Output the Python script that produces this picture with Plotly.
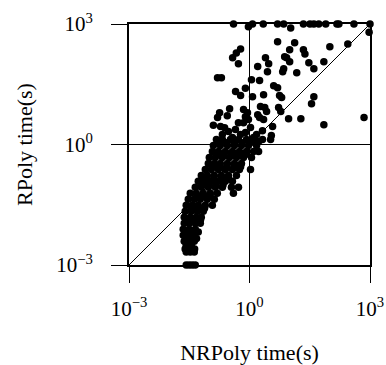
import plotly.graph_objects as go

# NRPoly time (s) and RPoly time (s)
nrpoly_time = [
    # runs capped at 1000 s for RPoly
    0.40, 1.19, 2.2, 5.0, 7.1, 22, 32, 40, 53, 79, 150, 168, 398, 1000, 0.94, 10.6, 950,
    # upper region
    5.0, 13.3, 100, 280, 0.60, 0.47, 10, 22, 24, 7.5, 8.4, 2.5, 0.38, 0.53, 10, 30, 71,
    3.0, 2.8, 1.6, 7.1, 6.7, 40, 15, 0.16, 0.20, 1.12, 1.78, 0.45, 0.60, 0.79, 4.0, 5.0,
    1.19, 2.24, 5.6, 6.3, 40, 35, 0.32, 0.28, 0.18, 0.16, 0.71, 0.89, 0.79, 1.88, 2.4,
    2.66, 5.3, 6.0, 9.4, 19, 71, 710, 1.6, 1.78, 2.24, 0.126, 0.19, 0.24, 0.53, 0.71,
    0.94, 3.76, 2.1, 3.5,
    0.299, 0.447, 0.596, 0.794, 1.06, 1.26, 0.376, 0.211, 1.5, 1.68,
    # dense band
    0.150, 0.211, 0.335, 0.531, 0.841, 1.33, 2.11, 3.35,
    0.126, 0.188, 0.282, 0.422, 0.631, 0.944, 1.5,
    0.119, 0.168, 0.251, 0.376, 0.562, 0.841, 1.26, 1.68,
    0.1, 0.141, 0.211, 0.316, 0.473, 0.708, 1.12,
    0.0944, 0.133, 0.188, 0.282, 0.422, 0.631,
    0.0794, 0.112, 0.168, 0.251, 0.376, 0.562, 1.06,
    0.0631, 0.0891, 0.133, 0.2, 0.299, 0.473,
    0.0531, 0.075, 0.112, 0.168, 0.251, 0.376,
    0.0447, 0.0631, 0.0944, 0.141, 0.211, 0.355, 0.531,
    0.0335, 0.0473, 0.0708, 0.106, 0.158, 0.398,
    0.0299, 0.0422, 0.0596, 0.0891, 0.133,
    0.0266, 0.0376, 0.0531, 0.0794, 0.119,
    0.0251, 0.0355, 0.0501, 0.0708,
    0.0237, 0.0335, 0.0473, 0.0631,
    0.0237, 0.0316, 0.0447, 0.0596,
    0.0224, 0.0316, 0.0447,
    0.0224, 0.0299, 0.0422,
    0.0237, 0.0316, 0.0422,
    0.0266, 0.0355,
    0.0266, 0.0335, 0.0422,
    0.0266, 0.0316, 0.0376, 0.0447,
    # extra points filling the band
    0.18, 0.27, 0.42, 0.66, 1.05,
    0.155, 0.23, 0.35, 0.53, 0.80,
    0.12, 0.18, 0.27, 0.41, 0.60,
    0.087, 0.13, 0.20, 0.30,
    0.066, 0.097, 0.145, 0.22,
    0.049, 0.072, 0.105,
    0.036, 0.052, 0.076,
    0.029, 0.042, 0.060,
    0.027, 0.039, 0.053,
    0.026, 0.037, 0.048,
    0.025, 0.035, 0.043,
]
rpoly_time = [
    1000, 1000, 1000, 1000, 1000, 1000, 1000, 1000, 1000, 1000, 1000, 1000, 1000, 1000, 850, 800, 620,
    360, 340, 270, 320, 240, 190, 230, 230, 180, 152, 145, 145, 145, 102, 115, 108, 115,
    102, 65, 87, 77, 65, 77, 61, 46, 46, 41, 39, 21, 16.5, 25, 29, 26,
    15.5, 17.4, 16.5, 14.7, 15.5, 10.4, 7.8, 5.2, 6.2, 4.7, 7.4, 6.2, 4.9, 8.8, 8.3,
    6.6, 8.3, 6.6, 4.4, 4.4, 3.1, 4.7, 5.5, 4.7, 4.2, 3.0, 2.8, 2.6, 3.5, 3.5,
    4.2, 2.8, 2.2, 1.67,
    2.1, 2.36, 1.77, 1.98, 2.64, 1.49, 1.49, 1.77, 1.77, 1.19,
    1.33, 1.33, 1.33, 1.33, 1.33, 1.33, 1.33, 1.33,
    0.94, 0.94, 0.94, 0.94, 0.94, 0.94, 0.94,
    0.67, 0.67, 0.67, 0.67, 0.67, 0.67, 0.67, 0.67,
    0.475, 0.475, 0.475, 0.475, 0.475, 0.475, 0.475,
    0.338, 0.338, 0.338, 0.338, 0.338, 0.338,
    0.24, 0.24, 0.24, 0.24, 0.24, 0.24, 0.24,
    0.17, 0.17, 0.17, 0.17, 0.17, 0.17,
    0.121, 0.121, 0.121, 0.121, 0.121, 0.121,
    0.0857, 0.0857, 0.0857, 0.0857, 0.0857, 0.0857, 0.0857,
    0.0608, 0.0608, 0.0608, 0.0608, 0.0608, 0.0608,
    0.0432, 0.0432, 0.0432, 0.0432, 0.0432,
    0.0306, 0.0306, 0.0306, 0.0306, 0.0306,
    0.0217, 0.0217, 0.0217, 0.0217,
    0.0154, 0.0154, 0.0154, 0.0154,
    0.011, 0.011, 0.011, 0.011,
    0.0078, 0.0078, 0.0078,
    0.0055, 0.0055, 0.0055,
    0.0039, 0.0039, 0.0039,
    0.0031, 0.0031,
    0.0021, 0.0021, 0.0021,
    0.001, 0.001, 0.001, 0.001,
    1.1, 1.1, 1.1, 1.1, 1.1,
    0.56, 0.56, 0.56, 0.56, 0.56,
    0.28, 0.28, 0.28, 0.28, 0.28,
    0.145, 0.145, 0.145, 0.145,
    0.10, 0.10, 0.10, 0.10,
    0.052, 0.052, 0.052,
    0.026, 0.026, 0.026,
    0.013, 0.013, 0.013,
    0.0066, 0.0066, 0.0066,
    0.0046, 0.0046, 0.0046,
    0.0025, 0.0025, 0.0025,
]

diag = [1e-3, 1e3]
tick_vals = [1e-3, 1e0, 1e3]
tick_text = ["10<sup>−3</sup>", "10<sup>0</sup>", "10<sup>3</sup>"]

FONT = "Liberation Serif"

fig = go.Figure()
fig.add_trace(go.Scatter(x=diag, y=diag, mode="lines",
                         line=dict(color="black", width=1), hoverinfo="skip"))
fig.add_trace(go.Scatter(x=nrpoly_time, y=rpoly_time, mode="markers",
                         marker=dict(color="black", size=7.5, line=dict(width=0)),
                         cliponaxis=False))

axis_common = dict(
    type="log", range=[-3, 3], tickvals=tick_vals, ticktext=tick_text,
    ticks="outside", ticklen=16, tickwidth=1, tickcolor="black",
    showline=True, linewidth=2, linecolor="black", mirror=True,
    showgrid=True, gridcolor="black", gridwidth=1, zeroline=False,
    tickfont=dict(family=FONT, size=21, color="black"),
    automargin=False,
)

fig.update_layout(
    width=386, height=365,
    margin=dict(l=129, r=16, t=24, b=100),
    paper_bgcolor="white", plot_bgcolor="white",
    showlegend=False,
    xaxis=dict(axis_common, ticklabelstandoff=8,
               title=dict(text="NRPoly time(s)", standoff=25,
                          font=dict(family=FONT, size=22, color="black"))),
    yaxis=dict(axis_common, ticklabelstandoff=14,
               title=dict(text="RPoly time(s)", standoff=17,
                          font=dict(family=FONT, size=22, color="black"))),
)

fig.write_html(
    "out.html",
    config={"displayModeBar": False},
    post_script="document.body.style.margin='0';document.body.style.overflow='hidden';",
)
